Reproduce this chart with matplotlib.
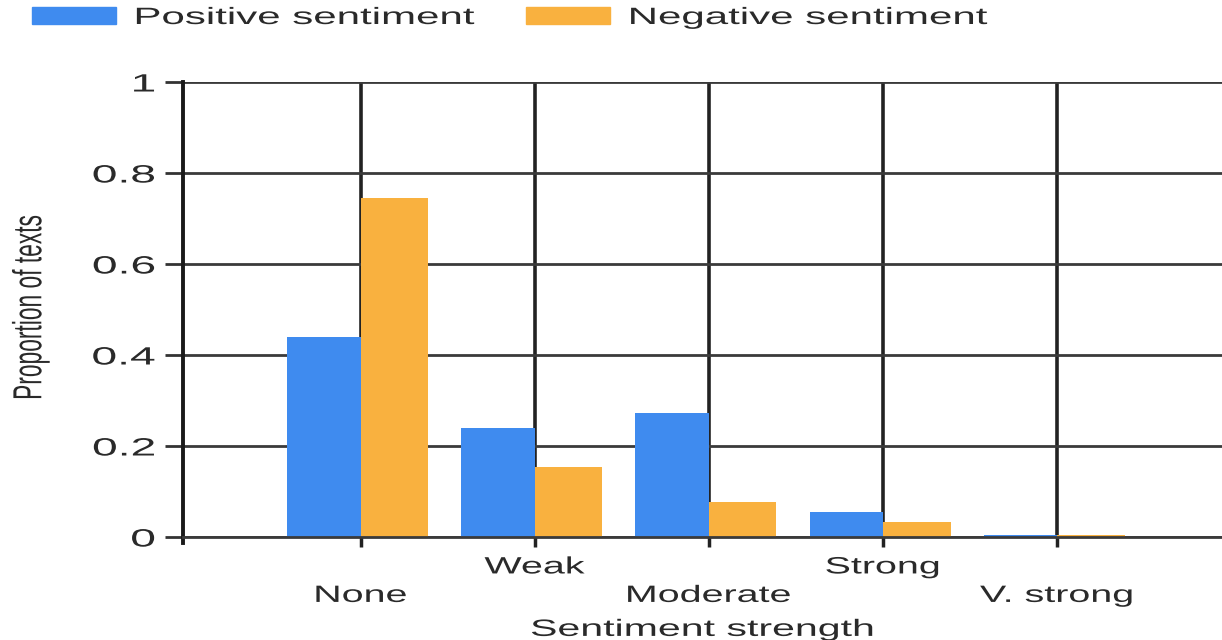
import matplotlib
matplotlib.use('Agg')
import matplotlib.pyplot as plt
import numpy as np
from matplotlib import patheffects
from matplotlib.patches import Patch
from matplotlib.transforms import Affine2D

# data
strength_major = ['None', 'Moderate', 'V. strong']
strength_minor = ['Weak', 'Strong']
categories = ['None', 'Weak', 'Moderate', 'Strong', 'V. strong']
positive = [0.44, 0.24, 0.272, 0.055, 0.005]
negative = [0.745, 0.154, 0.077, 0.034, 0.005]
yticks = [0, 0.2, 0.4, 0.6, 0.8, 1]
ytick_labels = ['0', '0.2', '0.4', '0.6', '0.8', '1']

BLUE = '#3f8bef'
ORANGE = '#f9b13f'
TXT = '#2a2a2a'


# the source image is stretched sideways, so stretch the glyphs the same way
class Stretch(patheffects.AbstractPathEffect):
    def __init__(self, sx=1.8, anchor='center'):
        super().__init__()
        self.sx = sx
        self.anchor = anchor

    def draw_path(self, renderer, gc, tpath, affine, rgbFace=None):
        if len(tpath.vertices) == 0:
            return
        ext = tpath.get_extents(affine)
        if self.anchor == 'left':
            x0 = ext.x0
        elif self.anchor == 'right':
            x0 = ext.x1
        else:
            x0 = (ext.x0 + ext.x1) / 2
        tr = affine + Affine2D().translate(-x0, 0).scale(self.sx, 1).translate(x0, 0)
        renderer.draw_path(gc, tpath, tr, rgbFace)


plt.rcParams['font.family'] = ['Liberation Sans', 'DejaVu Sans']

fig = plt.figure(figsize=(12.22, 6.4), dpi=100)
ax = fig.add_axes([183 / 1222, 1 - 537 / 640, 1 - 183 / 1222, 455 / 640])

x = np.arange(len(categories))
ax.bar(x, positive, width=-0.42, align='edge', color=BLUE, label='Positive sentiment')
ax.bar(x, negative, width=0.39, align='edge', color=ORANGE, label='Negative sentiment')

ax.set_xlim(-1.02, 4.95)
ax.set_ylim(0, 1)
ax.set_axisbelow(True)

ax.set_xticks(x[::2])
ax.set_xticklabels(strength_major)
ax.set_xticks(x[1::2], minor=True)
ax.set_xticklabels(strength_minor, minor=True)
ax.set_yticks(yticks)
ax.set_yticklabels(ytick_labels)

ax.tick_params(axis='x', which='both', length=7, width=2.5, color='#222222',
               labelsize=17, labelcolor=TXT)
ax.tick_params(axis='x', which='major', pad=27.5)
ax.tick_params(axis='x', which='minor', pad=7)
ax.tick_params(axis='y', length=13, width=2, color='#333333', pad=7,
               labelsize=18, labelcolor=TXT)

ax.grid(axis='x', which='both', color='#222222', linewidth=2.6)
ax.grid(axis='y', color='#3a3a3a', linewidth=2)

for s in ['top', 'right']:
    ax.spines[s].set_visible(False)
ax.spines['bottom'].set_color('#3a3a3a')
ax.spines['bottom'].set_linewidth(2)
ax.spines['left'].set_color('#1a1a1a')
ax.spines['left'].set_linewidth(2.8)
ax.spines['left'].set_bounds(-0.014, 1)

ax.set_xlabel('Sentiment strength', fontsize=17, color=TXT)
ax.xaxis.set_label_coords(0.5, -0.18)
ax.set_ylabel('Proportion of texts', fontsize=16.4, color=TXT)
ax.yaxis.set_label_coords(-0.136, 0.505)

for t in ax.get_xticklabels() + ax.get_xticklabels(minor=True):
    t.set_path_effects([Stretch(1.67)])
for t in ax.get_yticklabels():
    t.set_path_effects([Stretch(1.85, 'right')])
ax.xaxis.label.set_path_effects([Stretch(1.74)])
ax.yaxis.label.set_path_effects([Stretch(1.78)])

handles = [Patch(color=BLUE), Patch(color=ORANGE)]
leg = fig.legend(handles, ['Positive sentiment', 'Negative sentiment'],
                 loc='upper left', bbox_to_anchor=(32 / 1222, 1 - 7 / 640),
                 ncol=2, frameon=False, fontsize=17, borderpad=0,
                 borderaxespad=0, handlelength=3.56, handleheight=0.72,
                 handletextpad=0.8, columnspacing=8.44)
for t in leg.get_texts():
    t.set_color(TXT)
    t.set_path_effects([Stretch(1.78, 'left')])

fig.savefig('out.png', dpi=100)
